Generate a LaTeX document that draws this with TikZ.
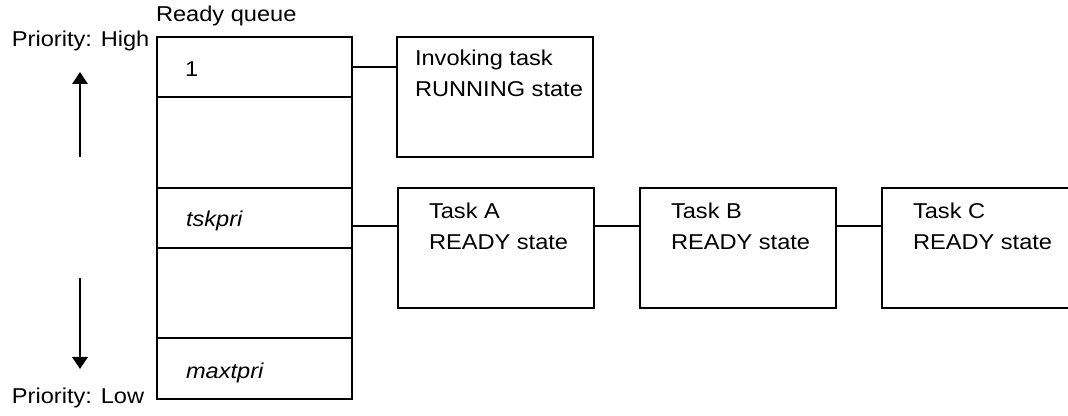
\documentclass[tikz,border=0pt]{standalone}
\usepackage{fontspec}
\setmainfont{Liberation Sans}[FakeStretch=1.1]
\usetikzlibrary{arrows.meta}
\begin{document}
\begin{tikzpicture}[x=0.75pt,y=-0.75pt,
  line width=1.5pt,
  cell/.style={draw,line width=1.5pt,minimum width=195*0.75pt,inner sep=0pt},
  taskbox/.style={draw,line width=1.5pt,minimum width=196*0.75pt,minimum height=120*0.75pt,inner sep=0pt},
  lbl/.style={anchor=base west,inner sep=0pt,font=\fontsize{16.1pt}{23.25pt}\selectfont},
  mlbl/.style={anchor=base west,inner sep=0pt,align=left,font=\fontsize{16.1pt}{23.25pt}\selectfont},
  arr/.style={-{Triangle[width=11.5pt,length=9pt]},line width=1.5pt}]
\useasboundingbox (0,0) rectangle (1068,416);
% ready queue cells
\node[cell,minimum height=60*0.75pt] (c1) at (254.5,67) {};
\node[cell,minimum height=91*0.75pt] (c2) at (254.5,142.5) {};
\node[cell,minimum height=60*0.75pt] (c3) at (254.5,218) {};
\node[cell,minimum height=90*0.75pt] (c4) at (254.5,293) {};
\node[cell,minimum height=61*0.75pt] (c5) at (254.5,368.5) {};
\node[lbl] (rq) at (155,22) {Ready queue};
\node[lbl] (ph) at (11,47) {Priority: High};
\node[lbl] (pl) at (11,404) {Priority: Low};
\node[lbl] (t1) at (184,77) {1};
\node[lbl] (t3) at (185,227) {\itshape tskpri};
\node[lbl] (t5) at (185,379) {\itshape maxtpri};
% priority arrows
\coordinate (u0) at (80,157);
\coordinate (u1) at (80,72);
\coordinate (d0) at (80,278);
\coordinate (d1) at (80,369);
\draw[arr] (u0) -- (u1);
\draw[arr] (d0) -- (d1);
% task boxes
\node[taskbox] (inv) at (495,97) {};
\node[taskbox] (A) at (496,248) {};
\node[taskbox] (B) at (738,248) {};
\node[taskbox] (C) at (980,248) {};
\node[mlbl] (tinv) at (414,97) {Invoking task\\RUNNING state};
\node[mlbl] (tA) at (428,250) {Task A\\READY state};
\node[mlbl] (tB) at (670,250) {Task B\\READY state};
\node[mlbl] (tC) at (912,250) {Task C\\READY state};
% connectors
\draw (c1.east) -- (c1.east -| inv.west);
\path (c3.east) ++(0,8) coordinate (s3);
\draw (s3) -- (s3 -| A.west);
\draw (A.east |- s3) -- (B.west |- s3);
\draw (B.east |- s3) -- (C.west |- s3);
\end{tikzpicture}
\end{document}
